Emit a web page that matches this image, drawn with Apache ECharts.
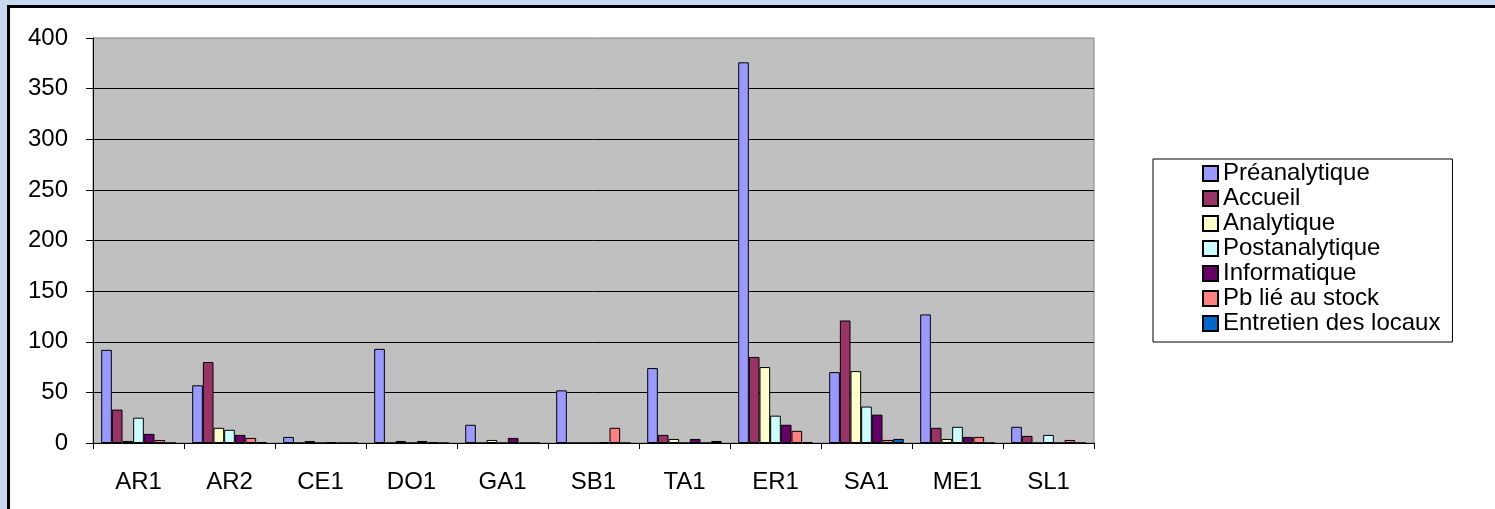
<!DOCTYPE html>
<html>
<head>
<meta charset="utf-8">
<script src="https://cdn.jsdelivr.net/npm/echarts@6/dist/echarts.min.js"></script>
<style>
  body { margin: 0; background: #C6D9F1; overflow: hidden; }
  #frame { position: absolute; left: 7px; top: 5px; width: 1600px; height: 600px;
           border: 3px solid #000; background: #fff; }
  #chart { position: absolute; left: 0; top: 0; width: 1495px; height: 509px; }
</style>
</head>
<body>
<div id="frame"></div>
<div id="chart"></div>
<script>
// categories (sites)
const sites = ['AR1', 'AR2', 'CE1', 'DO1', 'GA1', 'SB1', 'TA1', 'ER1', 'SA1', 'ME1', 'SL1'];

// one array per type of non-conformity, in site order
const preanalytique  = [92, 57, 6, 93, 18, 52, 74, 376, 70, 127, 16];
const accueil        = [33, 80, 0, 0, 0, 0, 8, 85, 121, 15, 7];
const analytique     = [2, 15, 2, 2, 3, 0, 4, 75, 71, 4, 0];
const postanalytique = [25, 13, 0, 0, 0, 0, 0, 27, 36, 16, 8];
const informatique   = [9, 8, 1, 2, 5, 1, 4, 18, 28, 6, 0];
const pbStock        = [3, 5, 0, 1, 0, 15, 0, 12, 3, 6, 3];
const entretien      = [0, 1, 0, 0, 0, 0, 2, 1, 4, 0, 0];

const yTicks = [0, 50, 100, 150, 200, 250, 300, 350, 400];

const seriesDefs = [
  ['Préanalytique', preanalytique, '#9999FF'],
  ['Accueil', accueil, '#993366'],
  ['Analytique', analytique, '#FFFFCC'],
  ['Postanalytique', postanalytique, '#CCFFFF'],
  ['Informatique', informatique, '#660066'],
  ['Pb lié au stock', pbStock, '#FF8080'],
  ['Entretien des locaux', entretien, '#0066CC']
];

const font = 'Arial, "Liberation Sans", sans-serif';

var myChart = echarts.init(document.getElementById('chart'));
var option = {
  animation: false,
  textStyle: { fontFamily: font },
  grid: {
    left: 93, top: 38, width: 1001, height: 405,
    show: true,
    backgroundColor: '#C0C0C0',
    borderColor: '#808080',
    borderWidth: 1
  },
  legend: {
    orient: 'vertical',
    left: 1153,
    top: 159,
    padding: [2, 12, 6, 49],
    itemWidth: 15,
    itemHeight: 15,
    itemGap: 0,
    icon: 'rect',
    backgroundColor: '#fff',
    borderColor: '#000',
    borderWidth: 1,
    itemStyle: { borderColor: '#000', borderWidth: 2 },
    textStyle: { fontSize: 24, lineHeight: 25, color: '#000', fontFamily: font },
    data: seriesDefs.map(function (d) { return d[0]; })
  },
  xAxis: {
    type: 'category',
    data: sites,
    axisLine: { lineStyle: { color: '#000', width: 1 } },
    axisTick: { show: true, length: 6, lineStyle: { color: '#000' } },
    axisLabel: { fontSize: 24, color: '#000', margin: 27, fontFamily: font }
  },
  yAxis: {
    type: 'value',
    min: yTicks[0],
    max: yTicks[yTicks.length - 1],
    interval: 50,
    axisLine: { show: true, lineStyle: { color: '#000', width: 1 } },
    axisTick: { show: true, length: 7, lineStyle: { color: '#000' } },
    axisLabel: { fontSize: 24, color: '#000', margin: 25, fontFamily: font },
    splitLine: { show: true, showMaxLine: false, lineStyle: { color: '#000', width: 1 } }
  },
  series: seriesDefs.map(function (d) {
    return {
      name: d[0],
      type: 'bar',
      data: d[1],
      barGap: '0%',
      barCategoryGap: '18%',
      itemStyle: { color: d[2], borderColor: '#000', borderWidth: 1 }
    };
  })
};
myChart.setOption(option);
</script>
</body>
</html>
